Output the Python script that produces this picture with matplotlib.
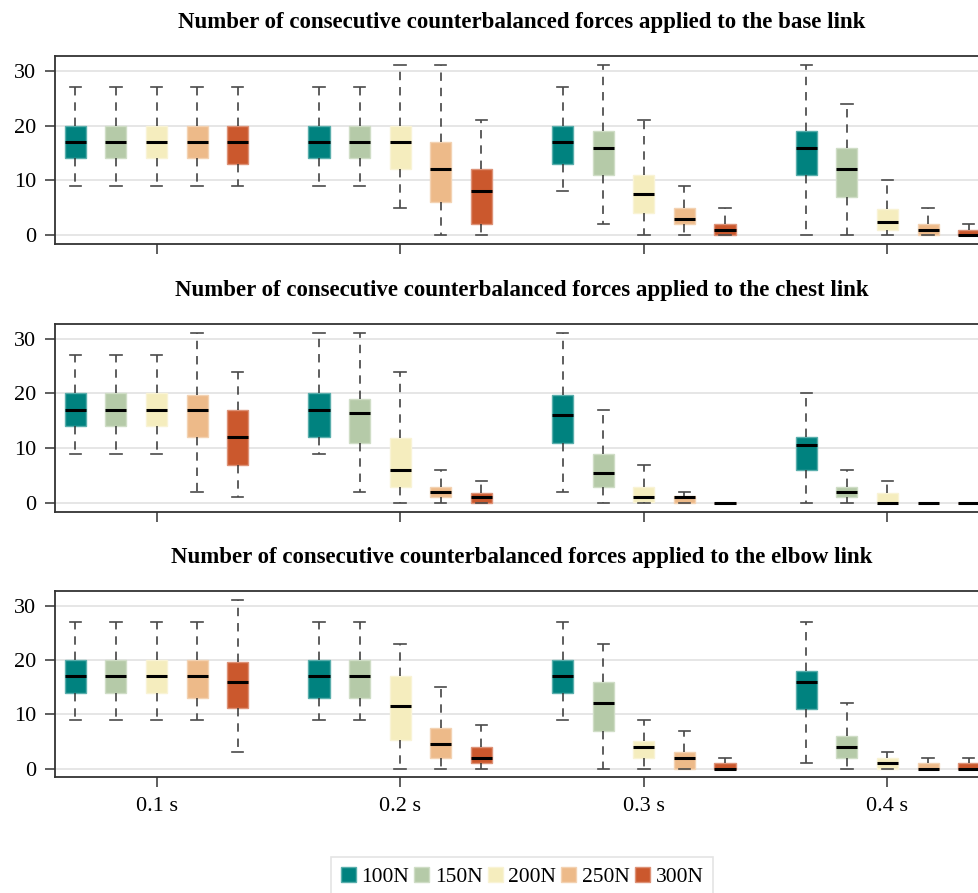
import matplotlib
matplotlib.use("Agg")
import matplotlib.pyplot as plt
from matplotlib.patches import Patch
from matplotlib.colors import to_rgb

plt.rcParams['font.family'] = ['Liberation Serif', 'DejaVu Serif']

groups = ["0.1 s", "0.2 s", "0.3 s", "0.4 s"]
forces = ["100N", "150N", "200N", "250N", "300N"]
colors = ["#00827f", "#b5caa8", "#f5edbe", "#edba89", "#cb582d"]

titles = [
    "Number of consecutive counterbalanced forces applied to the base link",
    "Number of consecutive counterbalanced forces applied to the chest link",
    "Number of consecutive counterbalanced forces applied to the elbow link",
]

# Box statistics per link: rows = time window, columns = force level
base_whislo = [[9, 9, 9, 9, 9], [9, 9, 5, 0, 0], [8, 2, 0, 0, 0], [0, 0, 0, 0, 0]]
base_q1     = [[14, 14, 14, 14, 13], [14, 14, 12, 6, 2], [13, 11, 4, 2, 0], [11, 7, 1, 0, 0]]
base_med    = [[17, 17, 17, 17, 17], [17, 17, 17, 12, 8], [17, 16, 7.5, 3, 1], [16, 12, 2.5, 1, 0]]
base_q3     = [[20, 20, 20, 20, 20], [20, 20, 20, 17, 12], [20, 19, 11, 5, 2], [19, 16, 4.75, 2, 1]]
base_whishi = [[27, 27, 27, 27, 27], [27, 27, 31, 31, 21], [27, 31, 21, 9, 5], [31, 24, 10, 5, 2]]

chest_whislo = [[9, 9, 9, 2, 1], [9, 2, 0, 0, 0], [2, 0, 0, 0, 0], [0, 0, 0, 0, 0]]
chest_q1     = [[14, 14, 14, 12, 7], [12, 11, 3, 1, 0], [11, 3, 0.25, 0, 0], [6, 1, 0, 0, 0]]
chest_med    = [[17, 17, 17, 17, 12], [17, 16.5, 6, 2, 1], [16, 5.5, 1, 1, 0], [10.5, 2, 0, 0, 0]]
chest_q3     = [[20, 20, 20, 19.8, 17], [20, 19, 11.8, 3, 1.8], [19.8, 9, 3, 1.2, 0], [12, 3, 1.8, 0, 0]]
chest_whishi = [[27, 27, 27, 31, 24], [31, 31, 24, 6, 4], [31, 17, 7, 2, 0], [20, 6, 4, 0, 0]]

elbow_whislo = [[9, 9, 9, 9, 3], [9, 9, 0, 0, 0], [9, 0, 0, 0, 0], [1, 0, 0, 0, 0]]
elbow_q1     = [[14, 14, 14, 13, 11.2], [13, 13, 5.25, 2, 1], [14, 7, 2, 0, 0], [11, 2, 0, 0, 0]]
elbow_med    = [[17, 17, 17, 17, 16], [17, 17, 11.5, 4.5, 2], [17, 12, 4, 2, 0], [16, 4, 1, 0, 0]]
elbow_q3     = [[20, 20, 20, 20, 19.7], [20, 20, 17, 7.5, 4], [20, 16, 5, 3, 1], [18, 6, 2, 1, 1]]
elbow_whishi = [[27, 27, 27, 27, 31], [27, 27, 23, 15, 8], [27, 23, 9, 7, 2], [27, 12, 3, 2, 2]]

links = [
    (base_whislo, base_q1, base_med, base_q3, base_whishi),
    (chest_whislo, chest_q1, chest_med, chest_q3, chest_whishi),
    (elbow_whislo, elbow_q1, elbow_med, elbow_q3, elbow_whishi),
]


def lighten(c, amount):
    r, g, b = to_rgb(c)
    return (r + (1 - r) * amount, g + (1 - g) * amount, b + (1 - b) * amount)


W, H = 979, 893
fig = plt.figure(figsize=(W / 100, H / 100), dpi=100)

# axes frames in pixel terms (left, top, bottom); right edge runs past the canvas
frames = [(55, 56, 244), (55, 324, 511.7), (55, 591, 777.3)]
ax_w = 934

group_step = 6
n_force = len(forces)

for k, ((wlo, q1, med, q3, whi), (left, top, bottom)) in enumerate(zip(links, frames)):
    ax = fig.add_axes([left / W, 1 - bottom / H, ax_w / W, (bottom - top) / H])
    for g in range(len(groups)):
        for f in range(n_force):
            pos = g * group_step + (f - (n_force - 1) / 2)
            st = [dict(whislo=wlo[g][f], q1=q1[g][f], med=med[g][f],
                       q3=q3[g][f], whishi=whi[g][f], fliers=[])]
            ax.bxp(st, positions=[pos], widths=0.52, capwidths=0.28,
                   patch_artist=True, showfliers=False, manage_ticks=False,
                   boxprops=dict(facecolor=colors[f],
                                 edgecolor=lighten(colors[f], 0.35), linewidth=1.0),
                   whiskerprops=dict(color='#333333', linewidth=1.1,
                                     linestyle=(0, (5.5, 4.5))),
                   capprops=dict(color='#4a4a4a', linewidth=1.2),
                   medianprops=dict(color='black', linewidth=2.2, solid_capstyle='butt'),
                   zorder=3)
    ax.set_xlim(-2.5, 20.5)
    ax.set_ylim(-1.6, 32.7)
    ax.set_yticks([0, 10, 20, 30])
    ax.set_xticks([g * group_step for g in range(len(groups))])
    if k == len(links) - 1:
        ax.set_xticklabels(groups)
    else:
        ax.set_xticklabels([])
    ax.grid(axis='y', color='#e6e6e6', linewidth=1.4, zorder=0)
    ax.set_axisbelow(True)
    for sp in ax.spines.values():
        sp.set_color('#333333')
        sp.set_linewidth(1.3)
    ax.tick_params(axis='both', direction='out', length=7.5, width=1.1,
                   color='#333333', labelsize=16, pad=6)
    ax.tick_params(axis='x', pad=7)
    ax.set_title(titles[k], fontsize=16.5, fontweight='bold', pad=20)

handles = [Patch(facecolor=c, edgecolor=lighten(c, 0.35), linewidth=1.0) for c in colors]
leg = fig.legend(handles, forces, loc='upper center', bbox_to_anchor=(522 / W, 1 - 857 / H),
                 ncol=5, fontsize=15.5, frameon=True, fancybox=False,
                 handlelength=0.7, handleheight=0.7, handletextpad=0.25,
                 columnspacing=0.25, borderpad=0.45, borderaxespad=0)
leg.get_frame().set_edgecolor('#dddddd')
leg.get_frame().set_linewidth(1.2)

fig.savefig("out.png", dpi=100)
